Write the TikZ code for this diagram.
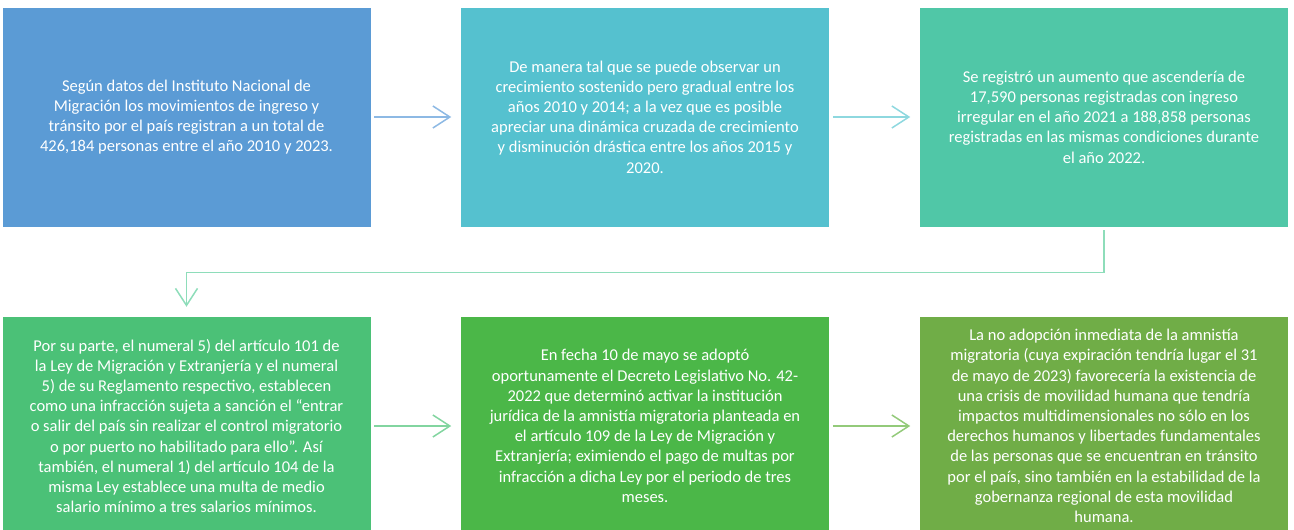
\documentclass[tikz,border=0pt]{standalone}
\usepackage{fontspec}
\setmainfont{Carlito}
\usetikzlibrary{arrows.meta}
\definecolor{c1}{HTML}{5B9BD5}
\definecolor{c2}{HTML}{55C1CF}
\definecolor{c3}{HTML}{50C7A7}
\definecolor{c4}{HTML}{4BC177}
\definecolor{c5}{HTML}{4BB748}
\definecolor{c6}{HTML}{70AD47}
\definecolor{a1}{HTML}{8DB9E4}
\definecolor{a2}{HTML}{8ED8DF}
\definecolor{a3}{HTML}{8EDDBA}
\definecolor{a4}{HTML}{82D5A0}
\definecolor{a5}{HTML}{93CA7A}
\begin{document}
\begin{tikzpicture}[x=1pt,y=-1pt,
  box/.style={minimum width=369pt, minimum height=220pt, inner sep=0pt, align=center,
    text=white, font=\fontsize{16.5}{20.2}\selectfont, draw=white, line width=0.5pt},
  conn/.style={line width=1.5pt, -{Straight Barb[length=17pt,width=22pt]},
    shorten <=3pt, shorten >=9pt}]
\useasboundingbox (0,0) rectangle (1294,530);
\clip (0,0) rectangle (1294,530);
\node[box, fill=c1] (b1) at (186.5,117) {Según datos del Instituto Nacional de\\
Migración los movimientos de ingreso y\\
tránsito por el país registran a un total de\\
426,184 personas entre el año 2010 y 2023.};
\node[box, fill=c2] (b2) at (645,117) {De manera tal que se puede observar un\\
crecimiento sostenido pero gradual entre los\\
años 2010 y 2014; a la vez que es posible\\
apreciar una dinámica cruzada de crecimiento\\
y disminución drástica entre los años 2015 y\\
2020.};
\node[box, fill=c3] (b3) at (1104,117) {Se registró un aumento que ascendería de\\
17,590 personas registradas con ingreso\\
irregular en el año 2021 a 188,858 personas\\
registradas en las mismas condiciones durante\\
el año 2022.};
\node[box, fill=c4] (b4) at (186.5,426) {Por su parte, el numeral 5) del artículo 101 de\\
la Ley de Migración y Extranjería y el numeral\\
5) de su Reglamento respectivo, establecen\\
como una infracción sujeta a sanción el “entrar\\
o salir del país sin realizar el control migratorio\\
o por puerto no habilitado para ello”. Así\\
también, el numeral 1) del artículo 104 de la\\
misma Ley establece una multa de medio\\
salario mínimo a tres salarios mínimos.};
\node[box, fill=c5] (b5) at (645,426) {En fecha 10 de mayo se adoptó\\
oportunamente el Decreto Legislativo No. 42-\\
2022 que determinó activar la institución\\
jurídica de la amnistía migratoria planteada en\\
el artículo 109 de la Ley de Migración y\\
Extranjería; eximiendo el pago de multas por\\
infracción a dicha Ley por el periodo de tres\\
meses.};
\node[box, fill=c6] (b6) at (1104,426) {La no adopción inmediata de la amnistía\\
migratoria (cuya expiración tendría lugar el 31\\
de mayo de 2023) favorecería la existencia de\\
una crisis de movilidad humana que tendría\\
impactos multidimensionales no sólo en los\\
derechos humanos y libertades fundamentales\\
de las personas que se encuentran en tránsito\\
por el país, sino también en la estabilidad de la\\
gobernanza regional de esta movilidad\\
humana.};
\draw[conn, a1] (b1.east) -- (b2.west);
\draw[conn, a2] (b2.east) -- (b3.west);
\draw[conn, a3] (b3.south) -- ++(0,45) -| (b4.north);
\draw[conn, a4] (b4.east) -- (b5.west);
\draw[conn, a5] (b5.east) -- (b6.west);
\end{tikzpicture}
\end{document}
